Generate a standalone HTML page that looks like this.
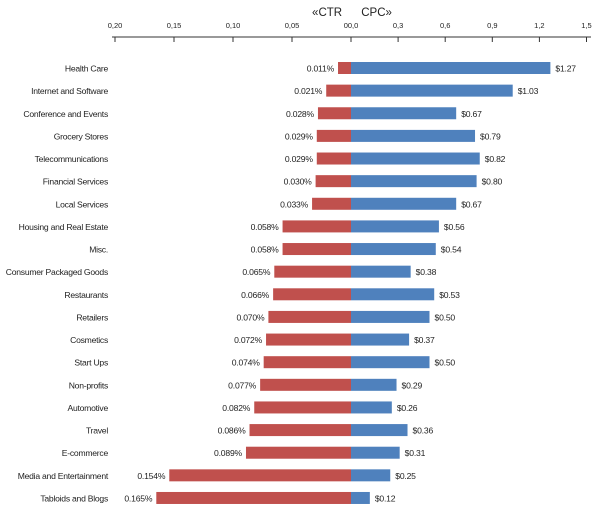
<!DOCTYPE html>
<html><head><meta charset="utf-8"><style>
body{margin:0;background:#fff;font-family:"Liberation Sans",sans-serif;}
svg text{font-family:"Liberation Sans",sans-serif;fill:#222;}
</style></head><body>
<svg id="c" width="600" height="510">
<text x="352" y="16" text-anchor="middle" font-size="11.5" xml:space="preserve">«CTR      CPC»</text>
<line x1="112" y1="37" x2="591" y2="37" stroke="#333" stroke-width="1"/>
</svg>
<script>
const categories=["Health Care","Internet and Software","Conference and Events","Grocery Stores","Telecommunications","Financial Services","Local Services","Housing and Real Estate","Misc.","Consumer Packaged Goods","Restaurants","Retailers","Cosmetics","Start Ups","Non-profits","Automotive","Travel","E-commerce","Media and Entertainment","Tabloids and Blogs"];
const ctrValues=[0.011,0.021,0.028,0.029,0.029,0.030,0.033,0.058,0.058,0.065,0.066,0.070,0.072,0.074,0.077,0.082,0.086,0.089,0.154,0.165];
const cpcValues=[1.27,1.03,0.67,0.79,0.82,0.80,0.67,0.56,0.54,0.38,0.53,0.50,0.37,0.50,0.29,0.26,0.36,0.31,0.25,0.12];
const ctrTicks=[0.20,0.15,0.10,0.05];
const ctrTickLabels=["0,20","0,15","0,10","0,05"];
const cpcTicks=[0,0.3,0.6,0.9,1.2,1.5];
const cpcTickLabels=["00,0","0,3","0,6","0,9","1,2","1,5"];
const svg=document.getElementById('c');
const NS='http://www.w3.org/2000/svg';
const zeroX=351;
const xCtr=v=>zeroX-v*1180;
const xCpc=v=>zeroX+v*157;
const yRow=i=>68+i*22.63;
function mk(tag,attrs,txt){const e=document.createElementNS(NS,tag);for(const k in attrs)e.setAttribute(k,attrs[k]);if(txt!==undefined)e.textContent=txt;svg.appendChild(e);return e;}
ctrTicks.forEach((t,i)=>{
  const x=xCtr(t);
  const l=mk('line',{x1:x,y1:37,x2:x,y2:42,stroke:'#333'});
  
  
  const tx=mk('text',{x:x,y:28,'text-anchor':'middle','font-size':'7.5'},ctrTickLabels[i]);
  
  
});
cpcTicks.forEach((t,i)=>{
  const x=xCpc(t);
  const l=mk('line',{x1:x,y1:37,x2:x,y2:42,stroke:'#333'});
  
  
  const tx=mk('text',{x:x,y:28,'text-anchor':'middle','font-size':'7.5'},cpcTickLabels[i]);
  
  
});
categories.forEach((c,i)=>{
  const y=yRow(i);
  const lab=mk('text',{x:108,y:y+3.5,'text-anchor':'end','font-size':'8.6','letter-spacing':'-0.25'},c);
  
  
  const x0=xCtr(ctrValues[i]);
  const r=mk('rect',{x:x0,y:y-6,width:zeroX-x0,height:12,fill:'#c0504d'});
  
  
  const x1=xCpc(cpcValues[i]);
  const b=mk('rect',{x:zeroX,y:y-6,width:x1-zeroX,height:12,fill:'#4f81bd'});
  
  
  const tl=mk('text',{x:x0-4,y:y+3.5,'text-anchor':'end','font-size':'8.6','letter-spacing':'-0.2'},ctrValues[i].toFixed(3)+'%');
  
  
  const cl=mk('text',{x:x1+5,y:y+3.5,'font-size':'8.6','letter-spacing':'-0.2'},'$'+cpcValues[i].toFixed(2));
  
  
});
</script>
</body></html>
